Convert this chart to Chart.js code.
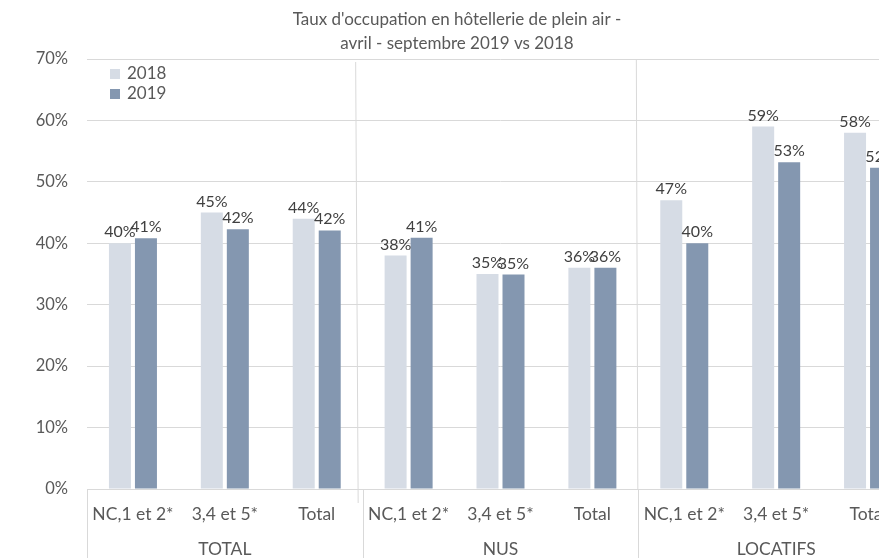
<!DOCTYPE html>
<html><head><meta charset="utf-8">
<script src="https://cdn.jsdelivr.net/npm/chart.js@4"></script>
<style>
html,body{margin:0;padding:0;overflow:hidden;background:#fff;width:879px;height:558px}
#wrap{position:absolute;left:0;top:0;width:942px;height:580px}
</style></head>
<body><div id="wrap"><canvas id="c" width="942" height="580"></canvas></div>
<script>
const titleLines = ["Taux d'occupation en hôtellerie de plein air -", "avril - septembre 2019 vs 2018"];
const categories = ['NC,1 et 2*','3,4 et 5*','Total','NC,1 et 2*','3,4 et 5*','Total','NC,1 et 2*','3,4 et 5*','Total'];
const groups = ['TOTAL','NUS','LOCATIFS'];
const seriesNames = ['2018','2019'];
const values2018 = [40.0, 45.0, 44.0, 38.0, 35.0, 36.0, 47.0, 59.0, 58.0];
const values2019 = [40.8, 42.3, 42.1, 40.9, 34.9, 36.0, 40.0, 53.2, 52.3];
const yTickValues = [0,10,20,30,40,50,60,70];

const FONT = 'Lato, "Open Sans", sans-serif';
const TXT = '#595959';
const GRID = '#D9D9D9';
const COLORS = ['#D6DCE5', '#8497B0'];

const deco = {
  id: 'deco',
  afterDraw(chart) {
    const {ctx, chartArea: a, scales: {x}} = chart;
    ctx.save();
    ctx.strokeStyle = GRID; ctx.lineWidth = 1;
    const per = categories.length / groups.length;
    for (let i = 0; i <= groups.length; i++) {
      const px = Math.round(x.getPixelForValue(i * per - 0.5)) + 0.5;
      ctx.beginPath(); ctx.moveTo(px, a.bottom); ctx.lineTo(px, chart.height); ctx.stroke();
    }
    const b1 = x.getPixelForValue(per - 0.5), b2 = x.getPixelForValue(2 * per - 0.5);
    ctx.beginPath(); ctx.moveTo(b1 - 7, a.top + 3); ctx.lineTo(b1 - 4.5, a.bottom + 14); ctx.stroke();
    ctx.beginPath(); ctx.moveTo(b2 - 2, a.top); ctx.lineTo(b2 - 0.5, a.bottom); ctx.stroke();

    ctx.font = '16px ' + FONT; ctx.fillStyle = '#404040';
    ctx.textAlign = 'center'; ctx.textBaseline = 'alphabetic';
    chart.data.datasets.forEach((ds, di) => {
      chart.getDatasetMeta(di).data.forEach((bar, i) => {
        ctx.fillText(Math.round(ds.data[i]) + '%', bar.x, bar.y - 6);
      });
    });

    ctx.textAlign = 'left'; ctx.font = '17px ' + FONT;
    seriesNames.forEach((n, i) => {
      const yy = a.top + 10 + i * 20;
      ctx.fillStyle = COLORS[i];
      ctx.fillRect(a.left + 23, yy, 10, 10);
      ctx.fillStyle = TXT;
      ctx.fillText(n, a.left + 40, yy + 10);
    });
    ctx.restore();
  }
};

new Chart(document.getElementById('c'), {
  type: 'bar',
  data: {
    labels: categories,
    datasets: [
      {label: seriesNames[0], data: values2018, backgroundColor: COLORS[0], categoryPercentage: 0.566, barPercentage: 0.846},
      {label: seriesNames[1], data: values2019, backgroundColor: COLORS[1], categoryPercentage: 0.566, barPercentage: 0.846}
    ]
  },
  options: {
    responsive: false,
    animation: false,
    devicePixelRatio: 1,
    layout: {padding: {left: 0, right: 28, top: 0, bottom: 16}},
    plugins: {
      legend: {display: false},
      tooltip: {enabled: false},
      title: {
        display: true, text: titleLines, color: TXT,
        font: {family: FONT, size: 17, weight: 'normal', lineHeight: 24 / 17},
        padding: {top: 8, bottom: 3}
      }
    },
    scales: {
      y: {
        min: 0, max: 70,
        afterBuildTicks(s) { s.ticks = yTickValues.map(v => ({value: v})); },
        afterFit(s) { s.width = 87; },
        grid: {color: GRID, drawTicks: false},
        border: {display: false},
        ticks: {color: TXT, padding: 19, font: {family: FONT, size: 16.5}, callback: v => v + '%'}
      },
      x: {
        type: 'category', position: 'bottom', weight: 0,
        grid: {display: false, drawTicks: false},
        border: {display: true, color: GRID},
        afterFit(s) { s.height = 35; },
        ticks: {color: TXT, padding: 15, autoSkip: false, maxRotation: 0, font: {family: FONT, size: 17.5}}
      },
      x2: {
        type: 'category', position: 'bottom', weight: 1, labels: groups, offset: true,
        grid: {display: false, drawTicks: false},
        border: {display: false},
        afterFit(s) { s.height = 40; },
        ticks: {color: TXT, padding: 15, autoSkip: false, maxRotation: 0, font: {family: FONT, size: 17.5}}
      }
    }
  },
  plugins: [deco]
});
</script>
</body></html>
